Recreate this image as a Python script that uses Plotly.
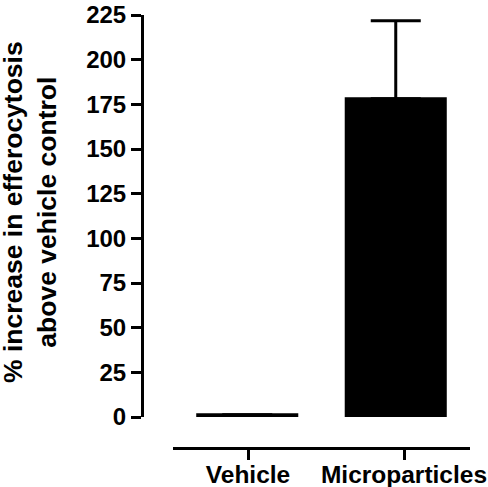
import plotly.graph_objects as go

categories = ["Vehicle", "Microparticles"]
values = [1.2, 178.1]
errors_up = [None, 43.7]
y_ticks = [0, 25, 50, 75, 100, 125, 150, 175, 200, 225]
y_title_lines = ["% increase in efferocytosis", "above vehicle control"]

FONT = dict(family="Liberation Sans, Arial, sans-serif", size=24, color="black", weight="bold")
XFONT = dict(FONT, size=24.5)
TFONT = dict(FONT, size=26.5)

fig = go.Figure()
# empty trace so the tick-bearing x axis gets its own subplot
fig.add_trace(go.Scatter(x=[], y=[], xaxis="x", yaxis="y", showlegend=False, hoverinfo="skip"))
fig.add_trace(go.Bar(
    x=categories, y=values, xaxis="x2", yaxis="y",
    marker=dict(color="black", line=dict(color="black", width=3)),
    error_y=dict(type="data", array=errors_up, symmetric=False,
                 arrayminus=[0, 0], color="black", thickness=3, width=25),
    cliponaxis=False, showlegend=False,
))

W, H = 488, 487
ml, mr, mt, mb = 142, 18, 15, 39
pw = W - ml - mr
ph = H - mt - mb
xd0 = (173 - ml) / pw
yd0 = (448 - 417) / ph

fig.update_layout(
    width=W, height=H,
    margin=dict(l=ml, r=mr, t=mt, b=mb, pad=0, autoexpand=False),
    paper_bgcolor="white", plot_bgcolor="white",
    font=FONT,
    bargap=0.333,
    xaxis=dict(domain=[xd0, 1], anchor="free", position=0, automargin=False,
               range=[-75/156, 1 + 66/156], tickmode="array",
               tickvals=list(range(len(categories))), ticktext=categories,
               showline=True, linecolor="black", linewidth=3,
               ticks="outside", ticklen=10, tickwidth=3, tickcolor="black",
               ticklabelstandoff=-6,
               showgrid=False, zeroline=False, tickfont=XFONT, fixedrange=True),
    xaxis2=dict(domain=[xd0, 1], overlaying="x", anchor="y", automargin=False,
                range=[-0.5, 1.5], visible=False, type="category",
                categoryorder="array", categoryarray=categories),
    yaxis=dict(domain=[yd0, 1], anchor="free", position=0, automargin=False,
               range=[0, 225], tickmode="array", tickvals=y_ticks,
               showline=True, linecolor="black", linewidth=3,
               ticks="outside", ticklen=10, tickwidth=3, tickcolor="black",
               showgrid=False, zeroline=False, tickfont=FONT),
)

fig.add_annotation(
    text="<br>".join(y_title_lines), textangle=-90,
    xref="paper", yref="paper",
    x=(30 - ml) / pw, y=((448 - 212) / ph),
    xanchor="center", yanchor="middle", showarrow=False,
    font=TFONT, align="center",
)

fig.write_html("out.html")
